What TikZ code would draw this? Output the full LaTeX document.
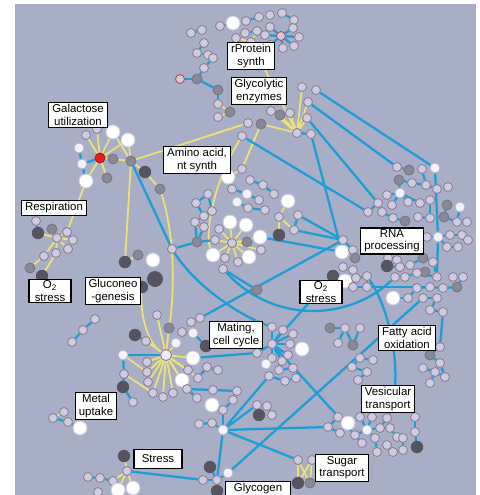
\documentclass[tikz,border=0pt]{standalone}
\usepackage{fontspec}
\setmainfont{Liberation Sans}
\usetikzlibrary{positioning}
\definecolor{netbg}{RGB}{168,174,198}
\definecolor{netcyan}{RGB}{30,158,212}
\definecolor{netyellow}{RGB}{236,226,118}
\definecolor{genefill}{RGB}{204,205,226}
\definecolor{generim}{RGB}{146,126,146}
\definecolor{genegray}{RGB}{136,136,152}
\definecolor{genedark}{RGB}{86,84,96}
\definecolor{genered}{RGB}{226,30,30}
\pgfdeclarelayer{back}
\pgfdeclarelayer{links}
\pgfsetlayers{back,links,main}
\tikzset{
  gene/.style={circle, draw=generim, fill=genefill, line width=0.5pt, inner sep=0pt, minimum size=0.18cm},
  genepink/.style={gene, draw=genered!60!generim},
  genes/.style={gene, draw=genefill!70!generim, fill=genefill!25!white, minimum size=0.2cm},
  genew/.style={gene, draw=genefill, fill=white, minimum size=0.28cm},
  genehub/.style={gene, fill=genefill!40!white, minimum size=0.22cm},
  geneg/.style={gene, draw=genedark!80, fill=genegray, minimum size=0.2cm},
  gened/.style={gene, draw=genedark, fill=genedark, minimum size=0.23cm},
  genedbig/.style={gened, minimum size=0.3cm},
  genehot/.style={gene, draw=genered!80!black, fill=genered, minimum size=0.2cm},
  clink/.style={draw=netcyan, line width=1.3pt},
  ylink/.style={draw=netyellow, line width=1pt},
  tag/.style={draw=black, fill=white, line width=0.6pt, inner xsep=2pt, inner ysep=1pt, align=center, font=\fontsize{6.5}{7}\selectfont}
}
\begin{document}
\begin{tikzpicture}[x=0.02cm, y=-0.02cm]
  \clip (0,0) rectangle (480,495);
  \begin{pgfonlayer}{back}
    \fill[white] (0,0) rectangle (480,495);
    \fill[netbg] (15,4) rectangle (476,495);
  \end{pgfonlayer}

  % rProtein and glycolytic genes
  \foreach \n/\x/\y/\s in {t1/191/33/gene, t2/202/30/gene, t3/220/26/gene, t4/233/23/genew, t5/246/21/gene,
      t6/259/17/gene, t7/270/15/gene, t8/282/13/gene, t9/294/20/gene, t10/281/36/genepink, t11/270/27/gene,
      t12/293/28/gene, t13/299/37/gene, t14/294/46/gene, t15/283/48/gene, t16/270/45/gene, t17/265/35/gene,
      t19/245/33/gene, t20/257/31/gene, t21/236/38/gene, t22/251/42/gene, t23/204/43/gene, t24/197/53/gene,
      t25/208/55/gene, t27/180/79/genepink, t28/197/79/geneg, t29/204/68/gene, t30/213/58/gene, t31/218/90/geneg,
      g1/302/87/gene, g2/316/90/gene, g3/308/102/gene, g4/307/118/gene, g5/297/133/gene, g6/311/134/gene,
      g7/280/115/geneg, g8/261/124/geneg, g9/248/123/gene, g10/242/136/gene, g11/290/113/gene, g12/271/111/gene,
      g13/218/104/gene, g14/230/112/geneg, g15/218/117/gene}
    \node[\s] (\n) at (\x,\y) {};

  % galactose, respiration, gluconeogenesis
  \foreach \n/\x/\y/\s in {a0/131/161/geneg, ared/100/158/genehot, a1/79/148/genes, a2/86/135/gene, a3/97/129/gene,
      a4/113/132/genew, a5/128/140/genew, a6/113/159/geneg, a7/82/164/genes, a8/86/181/genew, a9/107/178/geneg,
      a10/145/172/gened, a11/160/189/geneg,
      r0/57/238/gene, r1/36/221/gene, r2/38/233/gened, r3/52/229/geneg, r4/67/232/gene, r5/73/240/gene, r6/68/249/gene,
      o1/30/268/geneg, o2/42/276/gened, o3/44/256/gene, o4/56/253/gene,
      q1/125/262/gened, q2/138/255/geneg, q3/153/260/genew, q4/155/279/genedbig, q5/142/287/gened}
    \node[\s] (\n) at (\x,\y) {};

  % big yellow hub
  \foreach \n/\x/\y/\s in {h0/166/355/genehub, h1/157/315/gene, h2/169/328/geneg, h3/176/343/genes, h4/193/358/genew,
      h5/182/380/genew, h6/198/378/gene, h7/188/370/gene, h8/187/389/gene, h9/173/393/gene, h10/163/397/gene,
      h11/153/393/gene, h12/148/382/gene, h13/147/372/gene, h14/147/362/gene, h15/135/335/gened, h20/146/341/gene,
      h16/123/355/genes, h17/124/374/gene, h18/123/387/gened, h19/133/402/gene, h21/200/318/gene, h22/191/322/gene,
      h23/182/332/gene, h24/193/333/genes, h25/206/346/gened, h27/207/367/gene, h28/218/370/gene, h29/213/390/gene,
      h30/237/391/gene, h31/197/398/gene, h32/212/405/genew, h33/223/410/gene, h34/233/400/gene}
    \node[\s] (\n) at (\x,\y) {};

  % middle cluster
  \foreach \n/\x/\y/\s in {m0/232/243/gene, m1/230/222/genew, m2/246/225/genew, m3/247/242/geneg, m4/260/237/genew,
      m5/261/250/gene, m6/249/257/genew, m7/238/262/gene, m8/225/258/gene, m9/213/255/genew, m10/215/240/gene,
      m11/219/229/gene, m12/197/242/geneg, m13/195/222/gene, m14/204/227/gene, m15/172/249/gene, m16/196/203/gene,
      m17/208/194/gene, m18/212/211/gene, m19/204/216/gene, m20/250/180/gene, m21/263/185/gene, m22/274/194/gene,
      m23/232/189/gene, m24/247/194/genes, m25/259/200/gene, m26/237/202/genes, m27/248/208/gene, m28/265/210/gene,
      m29/288/201/genew, m30/279/217/gene, m31/279/235/gened, m32/298/215/gene, m33/294/230/gene, m34/228/177/genew,
      m35/242/169/gene, m36/223/269/gene, m37/257/290/geneg}
    \node[\s] (\n) at (\x,\y) {};

  % RNA processing cluster
  \foreach \n/\x/\y/\s in {n1/397/167/gene, n2/409/170/geneg, n3/422/169/gene, n4/435/168/genes, n5/399/180/geneg,
      n6/412/183/gene, n7/426/185/gene, n8/437/189/gene, n9/448/187/gene, n10/400/193/genes, n11/387/195/gene,
      n12/378/203/gene, n13/392/205/gene, n14/408/202/gene, n15/420/203/gene, n16/430/200/gene, n17/368/212/gene,
      n18/382/212/gene, n19/393/218/gene, n20/405/221/geneg, n21/418/217/gene, n22/430/218/gene, n23/447/205/geneg,
      n24/460/207/genes, n25/444/217/geneg, n26/457/222/gene, n27/467/222/gene, n28/438/237/genes, n29/427/237/gene,
      n30/450/235/gene, n31/462/235/gene, n32/447/247/gene, n33/458/247/gene, n34/468/240/gene, n35/343/240/gene,
      n36/342/252/genew, n37/353/250/gene, n38/355/258/geneg, n39/343/267/gene, n40/353/270/gene, n41/333/276/gened,
      n42/345/281/genew, n43/356/278/gene, n44/367/276/gene, n45/388/258/gene, n46/397/260/gene, n47/387/266/gened,
      n48/400/267/gene, n49/410/265/gene, n50/423/258/geneg, n51/425/272/geneg, n52/433/262/gene, n53/395/277/gene,
      n54/405/277/gene, n55/417/273/gene, n56/437/277/gene, n57/353/287/gene, n58/367/287/gene, n59/393/298/genew,
      n60/408/298/gene, n61/417/288/gene, n62/430/287/gene, n63/443/288/gene, n64/423/298/gene, n65/437/298/gene,
      n66/430/310/gene, n67/443/312/gene, n68/453/277/gene, n69/463/277/gene, n70/457/287/geneg}
    \node[\s] (\n) at (\x,\y) {};

  % mating, fatty acid, vesicular
  \foreach \n/\x/\y/\s in {c0/257/353/gene, c1/272/344/gene, c2/272/327/gene, c3/283/330/gene, c4/293/334/gene,
      c5/290/344/gene, c6/302/349/genew, c7/288/355/gene, c8/282/361/gene, c9/272/358/gene, c10/266/364/genes,
      c11/279/370/gene, c12/293/368/gene, c13/269/376/gene, c14/285/381/gene, c15/296/378/gene,
      d1/330/328/geneg, d2/345/328/gene, d3/360/328/gene, d4/338/343/gene, d5/353/345/geneg, d6/360/358/gene,
      d7/373/360/gene, d8/352/367/gene, d9/367/372/gene, d10/358/380/gene,
      p1/257/405/gene, p2/267/406/gene, p3/259/415/gened, p4/272/415/gene,
      f1/440/347/gene, f2/430/355/geneg, f3/440/363/gene, f4/423/368/gene, f5/435/372/gene, f6/445/377/gene, f7/430/383/gene,
      v1/338/417/gene, v2/348/423/genew, v3/328/427/gene, v4/340/433/gene, v5/360/417/gene, v6/372/417/gene,
      v7/367/430/genes, v8/355/435/gene, v9/362/443/gene, v10/375/438/gene, v11/380/428/gene, v12/387/418/gene,
      v13/390/428/gene, v14/397/437/gene, v15/403/438/gene, v16/387/445/gene, v17/393/452/gene, v18/403/450/gene,
      v19/415/417/gene, v20/415/432/gene, v21/417/447/gened, v22/377/452/gene}
    \node[\s] (\n) at (\x,\y) {};

  % bottom: glycogen, sugar, stress, metal
  \foreach \n/\x/\y/\s in {b0/223/430/genes, b1/199/424/gene, b2/212/423/gene,
      u1/298/460/gene, u2/312/460/gene, u3/298/483/gened, u4/310/483/geneg,
      y1/210/467/gened, y2/228/473/genes, y3/203/480/gene, y4/217/480/gene, y5/217/491/gened,
      s1/124/456/gened, s2/127/471/gene, s3/88/477/gene, s4/100/478/gene, s5/113/481/gene, s6/118/490/genew,
      s7/133/488/genew, s8/98/492/gene,
      e1/53/418/gene, e2/64/412/gene, e3/68/422/gene, e4/80/428/genew, k1/72/342/gene, k2/83/330/gene, k3/95/319/gene}
    \node[\s] (\n) at (\x,\y) {};

  \begin{pgfonlayer}{links}
    % yellow links
    \foreach \a/\b in {t21/t22, t20/t22, t22/g5, g5/g1, g5/g3, g5/g4, g5/g7, g5/g11, g5/g12, g5/g8, g13/g14, g14/g15,
        a0/g9, ared/a2, ared/a3, ared/a4, ared/a6, a6/a0, ared/a9, ared/a8, ared/a5, a0/a4, a0/a5, a0/a10, a10/a11,
        a0/q1, a8/r4, r0/r2, r0/r3, r0/r4, r0/r5, r0/r6, o1/o3, o2/o4, o3/r0, o4/r0, q1/q2,
        h0/h1, h0/h2, h0/h3, h0/h4, h0/h5, h0/h6, h0/h7, h0/h8, h0/h9, h0/h10, h0/h11, h0/h12, h0/h13, h0/h14,
        h20/h0, h17/h11, h16/h13,
        m0/m1, m0/m2, m0/m3, m0/m4, m0/m5, m0/m6, m0/m7, m0/m8, m0/m9, m0/m10, m0/m11, m29/m30, m30/m31, m30/m33,
        g8/m35, m35/m34, s1/s2, s2/s6, s2/s7, s5/s2, e1/e2, u1/u3, u2/u4, u1/u4, u2/u3}
      \draw[ylink] (\a) -- (\b);
    \draw[ylink] (q5) .. controls (140,320) and (150,345) .. (h0);
    \draw[ylink] (a11) .. controls (176,240) and (174,295) .. (h2);
    \draw[ylink] (g10) .. controls (212,185) and (205,235) .. (m9);

    % cyan links
    \foreach \a/\b in {t1/t2, t3/t4, t5/t6, t8/t9, t10/t11, t10/t12, t10/t13, t10/t14, t10/t15, t10/t16, t10/t17,
        t27/t28, t28/t29, t29/t30, t28/t31, t31/g13, t23/t24, t24/t25, t19/t20, g5/g6,
        ared/a7, a7/a1, a7/a8, r1/r2,
        h0/h16, h16/h17, h17/h18, h18/h19, h15/h20, h22/h21, h23/h24, h24/h25, h4/c0, h6/h27, h27/h28, h8/h29,
        h29/h30, h8/h31, h32/h33, h33/h34,
        m12/m13, m12/m14, m12/m10, m12/m15, m15/a0, m16/m17, m17/m18, m18/m19, m19/m16, m13/m19, m20/m21, m21/m22,
        m23/m24, m24/m25, m26/m27, m27/m28, m32/m33, m36/m37,
        n4/n28, n28/n56, n10/n5, n10/n11, n10/n13, n10/n14, n10/n15, n1/n2, n5/n6, n6/n7, n3/n7, n7/n8, n12/n17,
        n12/n18, n18/n19, n19/n20, n21/n22, n16/n22, n23/n25, n25/n26, n26/n27, n24/n26, n28/n29, n28/n30, n30/n31,
        n28/n32, n32/n33, n31/n34, n35/n37, n37/n38, n36/n37, n39/n40, n40/n43, n41/n42, n42/n43, n43/n44, n44/n58,
        n57/n58, n58/n62, n45/n46, n46/n48, n47/n48, n48/n49, n49/n50, n50/n52, n51/n55, n53/n54, n54/n55, n55/n56,
        n52/n56, n59/n60, n60/n61, n61/n62, n62/n63, n63/n70, n64/n65, n65/n66, n66/n67, n68/n69, n69/n70,
        c1/c0, c1/c2, c1/c3, c1/c4, c1/c5, c1/c7, c1/c8, c1/c9, c6/c5, c11/c12, c13/c14, c14/c15, c8/c11, c9/c10,
        d1/d2, d2/d4, d2/d5, d3/d5, d6/d7, d6/d8, d8/d9, d9/d10, p1/p2, p2/p4, p1/p3,
        f1/f2, f2/f3, f3/f5, f4/f5, f5/f6, f5/f7, f3/f6,
        v1/v2, v1/v3, v3/v4, v5/v7, v6/v7, v7/v8, v7/v10, v7/v11, v10/v22, v12/v13, v13/v14, v14/v15, v16/v17,
        v17/v18, v19/v20, v20/v21, v9/v8, v11/v12, v15/v18,
        b1/b2, b2/b0, b0/y4, y2/y4, y3/y4, y4/y5, y1/y4, s3/s4, s4/s5, e3/e4, e1/e3, k1/k2, k2/k3,
        g2/n4, g3/n1, g4/n12, g6/n36, g10/n17, m4/n36, m33/n35, m32/n35, n64/y2, c1/v8, b0/v3, b0/u1, b0/p1,
        b0/h33, b0/c13, c1/n41, s2/y3, n35/h21, f1/n67}
      \draw[clink] (\a) -- (\b);
    \draw[clink] (m36) .. controls (275,325) and (350,320) .. (n53);
    \draw[clink] (n44) .. controls (395,318) and (402,385) .. (v12);
    \draw[clink] (m15) .. controls (195,285) and (238,315) .. (c2);
  \end{pgfonlayer}

  % category labels
  \node[tag] (lrib) at (251,56) {rProtein\\synth};
  \node[tag] (lgly) at (259,91) {Glycolytic\\enzymes};
  \node[tag] (lgal) at (78,115) {Galactose\\utilization};
  \node[tag] (lamino) at (197,160) {Amino acid,\\nt synth};
  \node[tag] (lresp) at (54,208) {Respiration};
  \node[tag, minimum width=0.84cm] (lox1) at (50,291) {O\textsubscript{2}\\stress};
  \node[tag] (lgluc) at (113,291) {Gluconeo\\-genesis};
  \node[tag, minimum width=0.84cm] (lox2) at (321,292) {O\textsubscript{2}\\stress};
  \node[tag] (lrna) at (392,241) {RNA\\processing};
  \node[tag] (lmat) at (236,335) {Mating,\\cell cycle};
  \node[tag] (lfat) at (407,338) {Fatty acid\\oxidation};
  \node[tag] (lmet) at (96,406) {Metal\\uptake};
  \node[tag] (lves) at (388,399) {Vesicular\\transport};
  \node[tag, minimum width=0.96cm, minimum height=0.37cm] (lstr) at (158,459) {Stress};
  \node[tag] (lsug) at (342,468) {Sugar\\transport};
  \node[tag] (lglyc) at (258,494) {Glycogen\\metabolism};
\end{tikzpicture}
\end{document}
